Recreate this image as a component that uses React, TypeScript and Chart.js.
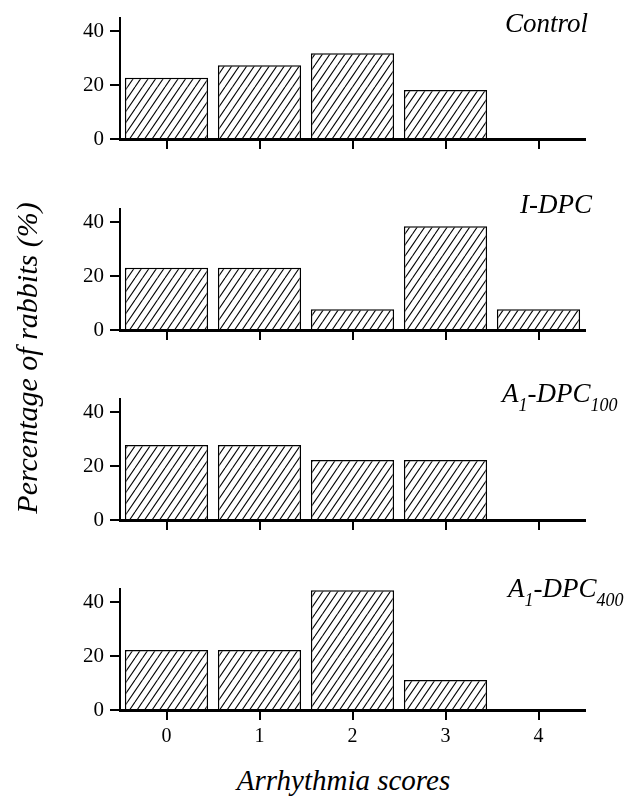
import React, { useEffect, useRef } from 'react';
import { Chart, registerables } from 'chart.js';

Chart.register(...registerables);

// ---- data ----
const categories = ['0', '1', '2', '3', '4'];
const controlValues = [22.7, 27.3, 31.8, 18.2, 0];
const iDpcValues = [23.1, 23.1, 7.7, 38.5, 7.7];
const a1Dpc100Values = [27.8, 27.8, 22.2, 22.2, 0];
const a1Dpc400Values = [22.2, 22.2, 44.4, 11.1, 0];
const yTickValues = [0, 20, 40];
const yMax = 45;

const SERIF = "'Liberation Serif', 'Times New Roman', Times, serif";

function makeHatch(): CanvasPattern | string {
  const t = document.createElement('canvas');
  const w = 15;
  const h = 22;
  t.width = w;
  t.height = h;
  const c = t.getContext('2d');
  if (!c) return '#fff';
  c.fillStyle = '#fff';
  c.fillRect(0, 0, w, h);
  c.strokeStyle = '#000';
  c.lineWidth = 1.1;
  for (const k of [-15, -7.5, 0, 7.5, 15]) {
    c.beginPath();
    c.moveTo(k, h);
    c.lineTo(k + w, 0);
    c.stroke();
  }
  return c.createPattern(t, 'repeat') ?? '#fff';
}

type PanelProps = { values: number[]; top: number; showXLabels: boolean };

function Panel({ values, top, showXLabels }: PanelProps) {
  const ref = useRef<HTMLCanvasElement | null>(null);
  useEffect(() => {
    if (!ref.current) return;
    const hatch = makeHatch();
    const chart = new Chart(ref.current, {
      type: 'bar',
      data: {
        labels: categories,
        datasets: [
          {
            data: values,
            backgroundColor: hatch as any,
            borderColor: '#000',
            borderWidth: 1.5,
            barPercentage: 0.895,
            categoryPercentage: 1,
          },
        ],
      },
      options: {
        responsive: false,
        animation: false,
        layout: { padding: { left: 0, right: 39, top: 15, bottom: 0 } },
        plugins: {
          legend: { display: false },
          tooltip: { enabled: false },
          title: { display: false },
        },
        scales: {
          x: {
            type: 'category',
            offset: true,
            z: 1,
            grid: {
              offset: false,
              drawOnChartArea: false,
              drawTicks: true,
              tickLength: 10,
              color: '#000',
              lineWidth: 2,
            },
            border: { display: true, color: '#000', width: 3 },
            ticks: {
              display: showXLabels,
              color: '#000',
              font: { family: SERIF, size: 20 },
              padding: 5,
              maxRotation: 0,
              autoSkip: false,
            },
            afterFit: (s: any) => {
              s.height = 40;
            },
          } as any,
          y: {
            type: 'linear',
            min: 0,
            max: yMax,
            z: 1,
            afterBuildTicks: (s: any) => {
              s.ticks = yTickValues.map((v) => ({ value: v }));
            },
            grid: {
              drawOnChartArea: false,
              drawTicks: true,
              tickLength: 10,
              color: '#000',
              lineWidth: 2,
            },
            border: { display: true, color: '#000', width: 2 },
            ticks: {
              color: '#000',
              font: { family: SERIF, size: 21 },
              padding: 6,
            },
            afterFit: (s: any) => {
              s.width = 120;
            },
          } as any,
        },
      },
    });
    return () => chart.destroy();
  }, [values, showXLabels]);
  return (
    <canvas
      ref={ref}
      width={624}
      height={180}
      style={{ position: 'absolute', left: 0, top, width: 624, height: 180 }}
    />
  );
}

const titleBase: React.CSSProperties = {
  position: 'absolute',
  fontFamily: SERIF,
  fontStyle: 'italic',
  fontSize: 27,
  lineHeight: '27px',
  whiteSpace: 'nowrap',
  color: '#000',
};
const subStyle: React.CSSProperties = {
  fontSize: 18,
  lineHeight: '18px',
  position: 'relative',
  top: 9,
};

export default function App() {
  return (
    <div
      style={{
        position: 'absolute',
        left: 0,
        top: 0,
        width: 624,
        height: 808,
        background: '#fff',
        overflow: 'hidden',
      }}
    >
      <Panel values={controlValues} top={-1} showXLabels={false} />
      <Panel values={iDpcValues} top={190} showXLabels={false} />
      <Panel values={a1Dpc100Values} top={380} showXLabels={false} />
      <Panel values={a1Dpc400Values} top={570} showXLabels={true} />

      <div style={{ ...titleBase, right: 624 - 588, top: 10 }}>Control</div>
      <div style={{ ...titleBase, right: 624 - 592, top: 191 }}>I-DPC</div>
      <div style={{ ...titleBase, left: 502, top: 380 }}>
        A<span style={subStyle}>1</span>-DPC<span style={subStyle}>100</span>
      </div>
      <div style={{ ...titleBase, left: 508, top: 575 }}>
        A<span style={subStyle}>1</span>-DPC<span style={subStyle}>400</span>
      </div>

      <div
        style={{
          position: 'absolute',
          left: 27 - 200,
          top: 357.5 - 16,
          width: 400,
          height: 32,
          lineHeight: '32px',
          textAlign: 'center',
          transform: 'rotate(-90deg)',
          fontFamily: SERIF,
          fontStyle: 'italic',
          fontSize: 30,
          whiteSpace: 'nowrap',
          color: '#000',
        }}
      >
        Percentage of rabbits (%)
      </div>
      <div
        style={{
          position: 'absolute',
          left: 343.5 - 200,
          top: 766,
          width: 400,
          lineHeight: '29px',
          textAlign: 'center',
          fontFamily: SERIF,
          fontStyle: 'italic',
          fontSize: 29,
          whiteSpace: 'nowrap',
          color: '#000',
        }}
      >
        Arrhythmia scores
      </div>
    </div>
  );
}
